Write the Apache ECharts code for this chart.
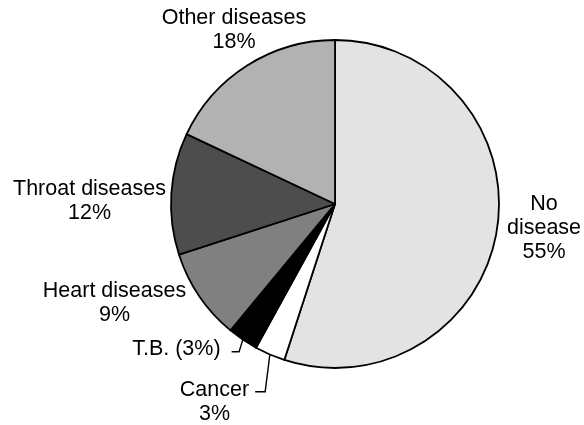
<!DOCTYPE html>
<html>
<head>
<meta charset="utf-8">
<script src="https://cdn.jsdelivr.net/npm/echarts@6/dist/echarts.min.js"></script>
<style>
  html, body { margin: 0; padding: 0; background: #ffffff; }
  #chart { width: 584px; height: 425px; }
</style>
</head>
<body>
<div id="chart"></div>
<script>
// Causes of death (share of all deaths, %)
const categories = ['No disease', 'Cancer', 'T.B.', 'Heart diseases', 'Throat diseases', 'Other diseases'];
const shares = [55, 3, 3, 9, 12, 18];
// Label wording for each slice (the value is appended from `shares`)
const labelNames = ['No\ndisease', 'Cancer', 'T.B.', 'Heart diseases', 'Throat diseases', 'Other diseases'];
const inlineValue = [false, false, true, false, false, false];
const fills = ['#e3e3e3', '#ffffff', '#000000', '#808080', '#4d4d4d', '#b2b2b2'];

// Pie geometry and label placement (offsets of label centres from the pie centre)
const CX = 335, CY = 204, R = 164, LINE_H = 24;
const labelOffsets = [
  [209, 24.5],
  [-120.5, 197.7],
  [-158.6, 144.7],
  [-220.5, 99.2],
  [-245.5, -2.8],
  [-101, -173.8]
];
const withLeader = [false, true, true, false, false, false];

const total = shares.reduce((a, b) => a + b, 0);
function edgePoint(i) {
  let before = 0;
  for (let k = 0; k < i; k++) before += shares[k];
  const mid = before + shares[i] / 2;
  const ang = (90 - mid / total * 360) * Math.PI / 180;
  return [CX + R * Math.cos(ang), CY - R * Math.sin(ang)];
}

const chart = echarts.init(document.getElementById('chart'), null, { renderer: 'canvas' });

chart.setOption({
  animation: false,
  backgroundColor: '#ffffff',
  series: [{
    type: 'pie',
    center: [CX, CY],
    radius: [0, R],
    startAngle: 90,
    clockwise: true,
    avoidLabelOverlap: false,
    silent: true,
    itemStyle: { borderColor: '#000000', borderWidth: 1.8 },
    label: {
      show: true,
      position: 'outside',
      color: '#000000',
      fontFamily: 'Liberation Sans, Arial, sans-serif',
      fontSize: 21.5,
      lineHeight: LINE_H,
      formatter: p => inlineValue[p.dataIndex]
        ? labelNames[p.dataIndex] + ' (' + p.value + '%)'
        : labelNames[p.dataIndex] + '\n' + p.value + '%'
    },
    labelLine: { show: false },
    labelLayout: params => {
      const i = params.dataIndex;
      const x = CX + labelOffsets[i][0];
      const y = CY + labelOffsets[i][1];
      const out = { x: x, y: y, align: 'center', verticalAlign: 'middle' };
      if (withLeader[i]) {
        const right = x + params.labelRect.width / 2;
        const start = edgePoint(i);
        let end, bend;
        if (inlineValue[i]) {
          end = [right + 11, y + 3];
          bend = [end[0] + 7.5, end[1]];
        } else {
          end = [right + 6, y - LINE_H / 2 + 2];
          bend = [end[0] + 10, end[1]];
        }
        out.labelLinePoints = [start, bend, end];
      }
      return out;
    },
    data: categories.map((name, i) => ({
      name: name,
      value: shares[i],
      itemStyle: { color: fills[i] },
      labelLine: withLeader[i]
        ? { show: true, lineStyle: { color: '#000000', width: 1.4 } }
        : { show: false }
    }))
  }]
});
</script>
</body>
</html>
